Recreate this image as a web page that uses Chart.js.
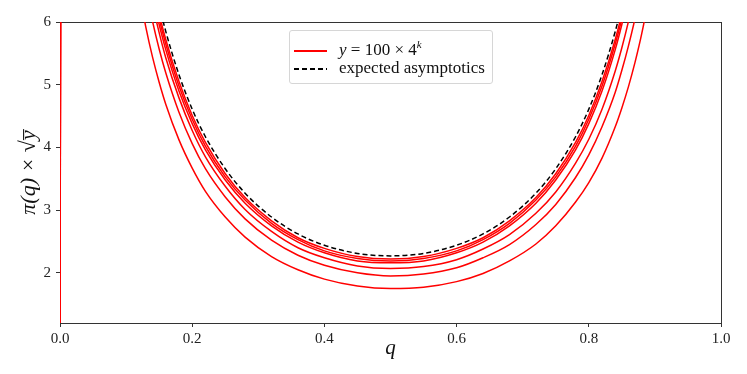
<!DOCTYPE html>
<html>
<head>
<meta charset="utf-8">
<script src="https://cdn.jsdelivr.net/npm/chart.js@4/dist/chart.umd.min.js"></script>
<style>
    body { margin: 0; background: #fff; }
    #wrap { position: relative; width: 747px; height: 374px; }
    #legend {
        position: absolute; left: 289px; top: 30px; width: 202px; height: 52px;
        border: 1px solid #d6d6d6; border-radius: 3px; background: rgba(255,255,255,0.85);
        font-family: 'Liberation Serif', 'DejaVu Serif', serif; font-size: 17px; color: #111;
    }
    .row { position: absolute; left: 4px; height: 22px; line-height: 22px; white-space: nowrap; }
    .sample { display: inline-block; width: 33px; height: 2px; vertical-align: middle; margin-right: 12px; }
    .solid { background: #ff0000; }
    .dash { background: repeating-linear-gradient(to right, #000 0 5px, transparent 5px 8px); }
    .row i sup { font-size: 11px; }
</style>
</head>
<body>
<div id="wrap">
    <canvas id="asymChart" width="747" height="374"></canvas>
    <div id="legend">
        <div class="row" style="top:2px"><span class="sample solid"></span><i>y</i> = 100 × 4<i><sup>k</sup></i></div>
        <div class="row" style="top:26px"><span class="sample dash"></span>expected asymptotics</div>
    </div>
</div>
<script>
// q grid shared by every curve
const qValues = [0, 0.005, 0.10, 0.11, 0.12, 0.13, 0.14, 0.15, 0.16, 0.18, 0.20, 0.22, 0.25, 0.28, 0.32, 0.36, 0.40, 0.45, 0.50,
    0.55, 0.60, 0.64, 0.68, 0.72, 0.75, 0.78, 0.80, 0.82, 0.84, 0.85, 0.86, 0.87, 0.88, 0.89, 0.90];

// red curves, y = 100 * 4^k, from the one closest to the asymptote down to the lowest
const red1 = [0, 40, 9.46, 8.54, 7.78, 7.15, 6.60, 6.13, 5.72, 5.05, 4.51, 4.08, 3.58, 3.20, 2.83, 2.56, 2.39, 2.26, 2.22,
    2.26, 2.39, 2.56, 2.83, 3.20, 3.58, 4.08, 4.51, 5.05, 5.72, 6.13, 6.60, 7.15, 7.78, 8.54, 9.46];
const red2 = [0, 40, 9.33, 8.42, 7.68, 7.05, 6.51, 6.05, 5.65, 4.98, 4.45, 4.02, 3.53, 3.16, 2.79, 2.53, 2.35, 2.23, 2.19,
    2.23, 2.35, 2.53, 2.79, 3.16, 3.53, 4.02, 4.45, 4.98, 5.65, 6.05, 6.51, 7.05, 7.68, 8.42, 9.33];
const red3 = [0, 40, 9.19, 8.29, 7.56, 6.94, 6.41, 5.96, 5.56, 4.90, 4.38, 3.96, 3.48, 3.11, 2.75, 2.49, 2.32, 2.19, 2.16,
    2.19, 2.32, 2.49, 2.75, 3.11, 3.48, 3.96, 4.38, 4.90, 5.56, 5.96, 6.41, 6.94, 7.56, 8.29, 9.19];
const red4 = [0, 40, 9.10, 8.19, 7.45, 6.83, 6.29, 5.83, 5.43, 4.79, 4.27, 3.85, 3.38, 3.01, 2.66, 2.40, 2.24, 2.11, 2.07,
    2.10, 2.21, 2.38, 2.61, 2.95, 3.29, 3.75, 4.13, 4.61, 5.22, 5.59, 6.01, 6.50, 7.06, 7.73, 8.54];
const red5 = [0, 40, 8.74, 7.86, 7.14, 6.53, 6.01, 5.57, 5.19, 4.56, 4.06, 3.66, 3.21, 2.86, 2.52, 2.28, 2.12, 2.00, 1.95,
    1.98, 2.08, 2.24, 2.45, 2.77, 3.09, 3.52, 3.88, 4.33, 4.88, 5.23, 5.62, 6.06, 6.58, 7.20, 7.94];
const red6 = [0, 40, 7.95, 7.14, 6.48, 5.91, 5.44, 5.04, 4.69, 4.12, 3.67, 3.30, 2.89, 2.57, 2.26, 2.05, 1.90, 1.79, 1.75,
    1.77, 1.86, 1.99, 2.19, 2.46, 2.75, 3.13, 3.44, 3.83, 4.33, 4.63, 4.97, 5.36, 5.81, 6.35, 6.99];

// expected asymptotics (black dashed)
const asymptotic = [null, null, 9.67, 8.73, 7.96, 7.31, 6.75, 6.27, 5.85, 5.16, 4.61, 4.17, 3.66, 3.27, 2.89, 2.62, 2.44, 2.31, 2.27,
    2.31, 2.44, 2.62, 2.89, 3.27, 3.66, 4.17, 4.61, 5.16, 5.85, 6.27, 6.75, 7.31, 7.96, 8.73, 9.67];

const xTickValues = [0, 0.2, 0.4, 0.6, 0.8, 1.0];
const yTickValues = [2, 3, 4, 5, 6];

const serif = "'Liberation Serif', 'DejaVu Serif', serif";

function toPoints(values) {
    return qValues.map((q, i) => ({ x: q, y: values[i] }));
}

function redSet(values) {
    return {
        data: toPoints(values),
        borderColor: '#ff0000',
        borderWidth: 1.5,
        pointRadius: 0,
        cubicInterpolationMode: 'monotone',
        fill: false
    };
}

// box around the plot like matplotlib spines
const frame = {
    id: 'frame',
    beforeDatasetsDraw(chart) {
        const a = chart.chartArea, c = chart.ctx;
        c.save();
        c.strokeStyle = '#333';
        c.lineWidth = 1;
        c.strokeRect(Math.round(a.left) + 0.5, Math.round(a.top) + 0.5,
            Math.round(a.right - a.left), Math.round(a.bottom - a.top));
        c.restore();
    }
};

new Chart(document.getElementById('asymChart'), {
    type: 'line',
    data: {
        datasets: [
            redSet(red1), redSet(red2), redSet(red3), redSet(red4), redSet(red5), redSet(red6),
            {
                data: toPoints(asymptotic),
                borderColor: '#000',
                borderWidth: 1.5,
                borderDash: [5, 3],
                pointRadius: 0,
                cubicInterpolationMode: 'monotone',
                spanGaps: false,
                fill: false
            }
        ]
    },
    options: {
        responsive: false,
        animation: false,
        layout: { padding: { top: 22, right: 26, left: 0, bottom: 0 } },
        plugins: { legend: { display: false }, tooltip: { enabled: false } },
        scales: {
            x: {
                type: 'linear',
                min: 0,
                max: 1,
                afterFit: s => { s.height = 51; },
                afterBuildTicks: s => { s.ticks = xTickValues.map(v => ({ value: v })); },
                border: { display: false },
                grid: { drawOnChartArea: false, tickLength: 4, color: '#333' },
                ticks: {
                    color: '#222',
                    font: { family: serif, size: 15 },
                    padding: 3,
                    maxRotation: 0,
                    callback: v => v.toFixed(1)
                },
                title: {
                    display: true,
                    text: 'q',
                    color: '#111',
                    font: { family: serif, size: 21, style: 'italic' },
                    padding: { top: 0, bottom: 13 }
                }
            },
            y: {
                min: 1.2,
                max: 6,
                afterFit: s => { s.width = 60; },
                afterBuildTicks: s => { s.ticks = yTickValues.map(v => ({ value: v })); },
                border: { display: false },
                grid: { drawOnChartArea: false, tickLength: 4, color: '#333' },
                ticks: {
                    color: '#222',
                    font: { family: serif, size: 15 },
                    padding: 5
                },
                title: {
                    display: true,
                    text: 'π(q) × √y̅',
                    color: '#111',
                    font: { family: serif, size: 22, style: 'italic' },
                    padding: { top: 16, bottom: 0 }
                }
            }
        }
    },
    plugins: [frame]
});
</script>
</body>
</html>
